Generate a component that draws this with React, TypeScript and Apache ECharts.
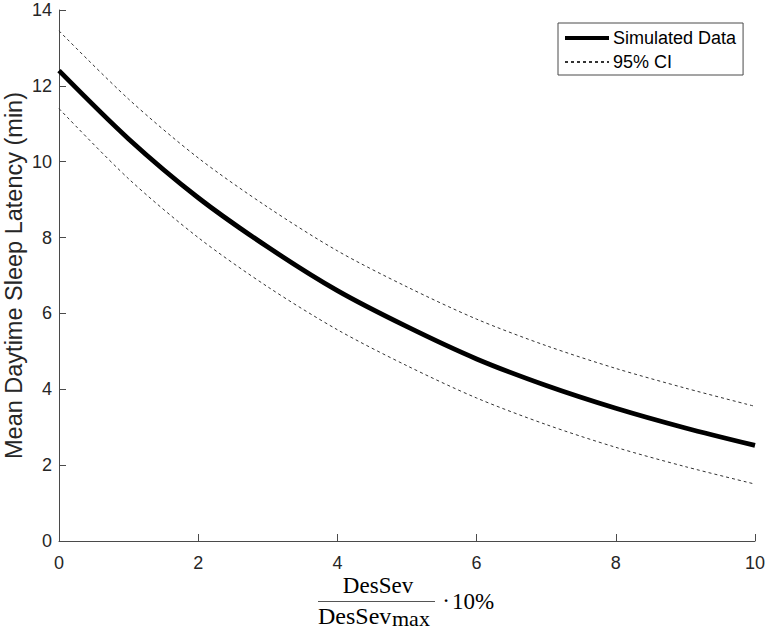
import React, { useEffect, useRef } from "react";
import * as echarts from "echarts";

const xValues = [0, 1, 2, 3, 4, 5, 6, 7, 8, 9, 10];
const simulated = [12.4, 10.6, 9.05, 7.75, 6.6, 5.65, 4.8, 4.1, 3.5, 2.98, 2.52];
const ciUpper = [13.45, 11.65, 10.1, 8.8, 7.65, 6.7, 5.85, 5.15, 4.55, 4.03, 3.55];
const ciLower = [11.4, 9.55, 8.0, 6.7, 5.57, 4.62, 3.77, 3.07, 2.47, 1.96, 1.5];
const xTicks = { min: 0, max: 10, interval: 2 };
const yTicks = { min: 0, max: 14, interval: 2 };

const pairs = (ys: number[]) => xValues.map((x, i) => [x, ys[i]]);

const SANS = "'Liberation Sans', Arial, sans-serif";
const SERIF = "'Liberation Serif', 'Times New Roman', serif";
const AXIS = "#4a4a4a";
const TXT = "#262626";

export default function App() {
  const ref = useRef<HTMLDivElement>(null);
  useEffect(() => {
    document.body.style.margin = "0";
    if (!ref.current) return;
    const chart = echarts.init(ref.current, undefined, { renderer: "svg" });
    chart.setOption({
      animation: false,
      backgroundColor: "#ffffff",
      grid: { left: 59, right: 13, top: 10, bottom: 88, containLabel: false, outerBoundsMode: "none" },
      xAxis: {
        type: "value",
        ...xTicks,
        axisLine: { show: true, lineStyle: { color: AXIS, width: 1 } },
        axisTick: { show: true, inside: true, length: 7, lineStyle: { color: AXIS } },
        axisLabel: { color: TXT, fontSize: 18, fontFamily: SANS, margin: 13 },
        splitLine: { show: false },
      },
      yAxis: {
        type: "value",
        ...yTicks,
        name: "Mean Daytime Sleep Latency (min)",
        nameLocation: "middle",
        nameGap: 33,
        nameMoveOverlap: false,
        nameTextStyle: { color: TXT, fontSize: 23.5, fontFamily: SANS },
        axisLine: { show: true, lineStyle: { color: AXIS, width: 1 } },
        axisTick: { show: true, inside: true, length: 7, lineStyle: { color: AXIS } },
        axisLabel: { color: TXT, fontSize: 18, fontFamily: SANS, margin: 7 },
        splitLine: { show: false },
      },
      legend: {
        data: [
          { name: "Simulated Data", lineStyle: { width: 4 } },
          { name: "95% CI" },
        ],
        orient: "vertical",
        left: 558,
        top: 23,
        itemWidth: 44,
        itemHeight: 14,
        itemGap: 6,
        padding: [6, 7, 4, 5],
        borderColor: "#4a4a4a",
        borderWidth: 1,
        backgroundColor: "#ffffff",
        itemStyle: { opacity: 0 },
        textStyle: { color: "#000", fontSize: 18, fontFamily: SANS, padding: [0, 0, 0, -1] },
      },
      series: [
        {
          name: "95% CI",
          type: "line",
          data: pairs(ciUpper),
          smooth: 0.3,
          symbol: "none",
          lineStyle: { color: "#333333", width: 1, type: [3, 3] },
          itemStyle: { color: "#333333" },
        },
        {
          name: "95% CI lower",
          type: "line",
          data: pairs(ciLower),
          smooth: 0.3,
          symbol: "none",
          lineStyle: { color: "#333333", width: 1, type: [3, 3] },
          itemStyle: { color: "#333333" },
        },
        {
          name: "Simulated Data",
          type: "line",
          data: pairs(simulated),
          smooth: 0.3,
          symbol: "none",
          lineStyle: { color: "#000000", width: 4.8 },
          itemStyle: { color: "#000000" },
          z: 5,
        },
      ],
      graphic: [
        {
          type: "text",
          x: 378,
          y: 585,
          style: { text: "DesSev", font: `23px ${SERIF}`, fill: "#000", align: "center", verticalAlign: "middle" },
        },
        {
          type: "line",
          shape: { x1: 318, y1: 601.5, x2: 435, y2: 601.5 },
          style: { stroke: "#555", lineWidth: 1 },
        },
        {
          type: "text",
          x: 318,
          y: 615.5,
          style: { text: "DesSev", font: `24px ${SERIF}`, fill: "#000", align: "left", verticalAlign: "middle" },
        },
        {
          type: "text",
          x: 392,
          y: 618,
          style: { text: "max", font: `22px ${SERIF}`, fill: "#000", align: "left", verticalAlign: "middle" },
        },
        {
          type: "text",
          x: 446,
          y: 600,
          style: { text: "·", font: `23px ${SERIF}`, fill: "#000", align: "center", verticalAlign: "middle" },
        },
        {
          type: "text",
          x: 452,
          y: 601.5,
          style: { text: "10%", font: `23px ${SERIF}`, fill: "#000", align: "left", verticalAlign: "middle" },
        },
      ],
    });
    return () => chart.dispose();
  }, []);
  return <div ref={ref} style={{ width: 768, height: 629 }} />;
}
